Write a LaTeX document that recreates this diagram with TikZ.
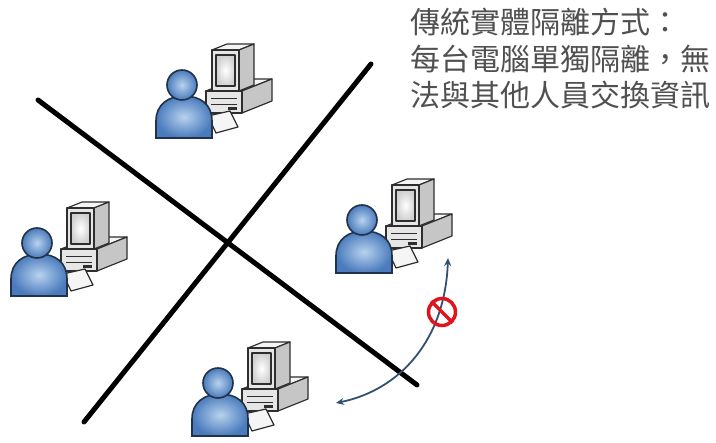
\documentclass[tikz,border=0pt]{standalone}
\usepackage{fontspec}
\newfontfamily\cjk{Noto Sans CJK TC}
\usetikzlibrary{arrows.meta}

\definecolor{userlight}{HTML}{B8D2EF}
\definecolor{userdark}{HTML}{4A7BBC}
\definecolor{userline}{HTML}{22324A}
\definecolor{pcfront}{HTML}{E6E6E6}
\definecolor{pcside}{HTML}{C6C6C6}
\definecolor{pctop}{HTML}{F5F5F5}
\definecolor{pcscreen}{HTML}{D0D0D0}
\definecolor{pcedge}{HTML}{2E2E2E}
\definecolor{linkblue}{HTML}{34506F}
\definecolor{stopred}{HTML}{E0141E}
\definecolor{notegray}{HTML}{505050}

\tikzset{
  pcline/.style={draw=pcedge, line width=1.2pt, line join=round},
  pcdetail/.style={draw=pcedge, line width=0.8pt},
  usershade/.style={draw=userline, line width=1.6pt, inner color=userlight, outer color=userdark},
  divider/.style={line width=5pt, line cap=round, black},
  blockedlink/.style={draw=linkblue, line width=1.8pt,
    {Stealth[length=8pt,width=7pt]}-{Stealth[length=8pt,width=7pt]}},
  stopsign/.style={circle, draw=stopred, line width=3.5pt, minimum size=27pt, inner sep=0pt},
  note/.style={font=\cjk\fontsize{30}{36}\selectfont, text=notegray, anchor=base west, inner sep=0pt},
  % a user sitting at a desktop computer; origin = centre of the head
  workstation/.pic={
    % desktop case
    \filldraw[pcline, fill=pctop] (24,6) -- (54,-6) -- (90,-6) -- (60,6) -- cycle;
    \filldraw[pcline, fill=pcside] (60,6) -- (90,-6) -- (90,16) -- (60,28) -- cycle;
    \filldraw[pcline, fill=pcfront] (24,6) rectangle (60,28);
    \draw[pcdetail] (29,13) -- (55,13) (29,19) -- (55,19);
    \fill[pcedge] (46,22) rectangle (55,25);
    % monitor
    \filldraw[pcline, fill=pctop] (30,-35) -- (45,-41) -- (72,-41) -- (57,-35) -- cycle;
    \filldraw[pcline, fill=pcside] (57,-35) -- (72,-41) -- (72,0) -- (57,6) -- cycle;
    \filldraw[pcline, fill=pcfront] (30,-35) rectangle (57,6);
    \shadedraw[pcline, inner color=white, outer color=pcscreen] (34,-30) rectangle (53,1);
    % keyboard
    \filldraw[pcline, fill=pctop] (26,31) -- (48,26) -- (56,42) -- (34,48) -- cycle;
    % user
    \shadedraw[usershade] (-26,53) -- (-26,36) .. controls (-26,19) and (-13,11) .. (2,11)
      .. controls (18,11) and (30,19) .. (30,36) -- (30,53) -- cycle;
    \shadedraw[usershade] (0,0) circle (15);
  }
}

\begin{document}
\begin{tikzpicture}[x=1pt, y=-1pt]
  \useasboundingbox (0,0) rectangle (716,443);

  % the two walls that separate the machines
  \coordinate (wallAstart) at (38,100);
  \coordinate (wallAend) at (417,385);
  \coordinate (wallBstart) at (371,64);
  \coordinate (wallBend) at (84,422);
  \draw[divider] (wallAstart) -- (wallAend);
  \draw[divider] (wallBstart) -- (wallBend);

  % isolated workstations
  \pic (wsTop) at (182,85) {workstation};
  \pic (wsLeft) at (37,243) {workstation};
  \pic (wsRight) at (362,220) {workstation};
  \pic (wsBottom) at (218,383) {workstation};

  % blocked exchange between the bottom and right machines
  \coordinate (linkTail) at (336,403);
  \coordinate (linkTip) at (448,258);
  \draw[blockedlink] (linkTail) .. controls (400,390) and (445,340) .. (linkTip);
  \node[stopsign] (noExchange) at (442,312) {};
  \draw[stopred, line width=3.5pt] (noExchange.north west) -- (noExchange.south east);

  % caption
  \node[note] (noteA) at (410,34) {傳統實體隔離方式：};
  \node[note] (noteB) at (410,71) {每台電腦單獨隔離，無};
  \node[note] (noteC) at (410,107) {法與其他人員交換資訊};
\end{tikzpicture}
\end{document}
